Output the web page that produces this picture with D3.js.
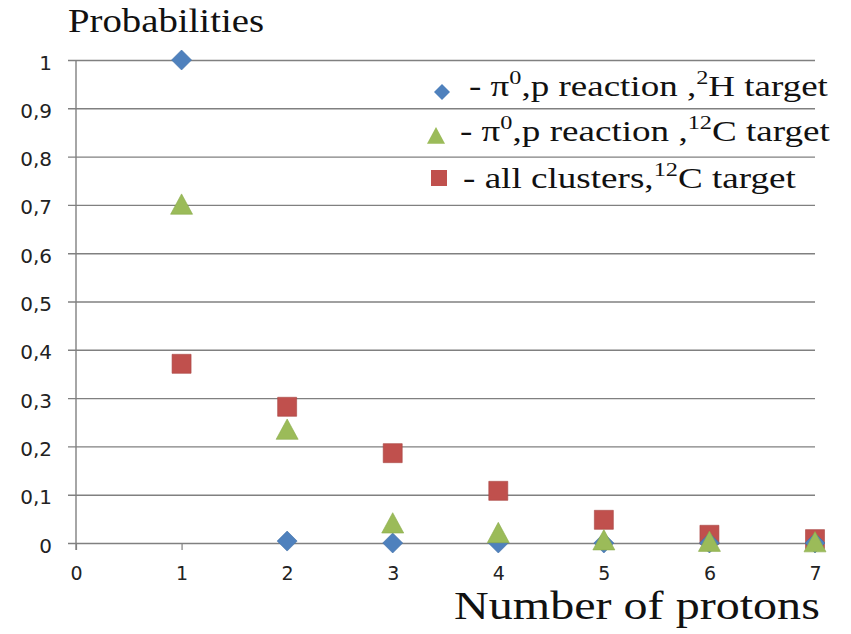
<!DOCTYPE html>
<html>
<head>
<meta charset="utf-8">
<script src="https://cdn.jsdelivr.net/npm/d3@7"></script>
<style>
  html, body { margin: 0; padding: 0; background: #fff; }
  svg { display: block; }
</style>
</head>
<body>
<svg id="chart" width="851" height="634"></svg>
<script>
// Number of protons detected per event
const protons = [1, 2, 3, 4, 5, 6, 7];
// π0,p reaction on the 2H target
const deuteronPi0p = [1.0, 0.004, 0.0, 0.0, 0.0, 0.0, 0.0];
// π0,p reaction on the 12C target
const carbonPi0p = [0.70, 0.234, 0.04, 0.02, 0.005, 0.002, 0.001];
// all clusters on the 12C target
const carbonAll = [0.371, 0.282, 0.186, 0.108, 0.048, 0.017, 0.008];

const xTicks = [0, 1, 2, 3, 4, 5, 6, 7];
const yTicks = [0, 0.1, 0.2, 0.3, 0.4, 0.5, 0.6, 0.7, 0.8, 0.9, 1];

const svg = d3.select("#chart");
const x = d3.scaleLinear().domain([0, 7]).range([76, 815]);
const y = d3.scaleLinear().domain([0, 1]).range([543, 60]);

const gridColor = "#808080";
const sans = "'DejaVu Sans', Verdana, sans-serif";
const serif = "'Liberation Serif', 'Times New Roman', serif";
const fmt = v => (v === 0 || v === 1) ? String(v) : d3.format(".1f")(v).replace(".", ",");

// Stretch a text element horizontally so it spans the given width from its left edge
function fitWidth(sel, width) {
  const node = sel.node();
  const bb = node.getBBox();
  const sx = width / bb.width;
  sel.attr("transform", `translate(${bb.x},0) scale(${sx},1) translate(${-bb.x},0)`);
}

// horizontal gridlines with left-side ticks
const yAxis = d3.axisLeft(y).tickValues(yTicks).tickSize(-(815 - 76)).tickSizeOuter(0).tickFormat(fmt);
const gy = svg.append("g").attr("transform", "translate(76,0)").call(yAxis);
gy.select(".domain").remove();
gy.selectAll(".tick line").attr("stroke", gridColor).attr("stroke-width", 1.4).attr("x1", -8);
gy.selectAll(".tick text")
  .attr("font-family", sans).attr("font-size", 20).attr("fill", "#222")
  .attr("x", -24).attr("dy", "0.45em");

// vertical axis line
svg.append("line")
  .attr("x1", x(0)).attr("x2", x(0)).attr("y1", y(1)).attr("y2", y(0) + 7)
  .attr("stroke", gridColor).attr("stroke-width", 1.4);

// x axis ticks and labels
const xAxis = d3.axisBottom(x).tickValues(xTicks).tickSize(7).tickSizeOuter(0)
  .tickPadding(17).tickFormat(d3.format("d"));
const gx = svg.append("g").attr("transform", `translate(0,${y(0)})`).call(xAxis);
gx.select(".domain").remove();
gx.selectAll(".tick line").attr("stroke", gridColor).attr("stroke-width", 1.2);
gx.selectAll(".tick text")
  .attr("font-family", sans).attr("font-size", 19).attr("fill", "#222");

// titles
const yTitle = svg.append("text").attr("x", 68).attr("y", 32)
  .attr("font-family", serif).attr("font-size", 33).attr("fill", "#111").text("Probabilities");
fitWidth(yTitle, 196);
const xTitle = svg.append("text").attr("x", 454).attr("y", 619)
  .attr("font-family", serif).attr("font-size", 40).attr("fill", "#111").text("Number of protons");
fitWidth(xTitle, 366);

// marker shapes
const shapes = {
  diamond: s => `M0,${-s}L${s},0L0,${s}L${-s},0Z`,
  triangle: s => `M0,${-s}L${s * 1.0},${s * 0.85}L${-s * 1.0},${s * 0.85}Z`,
  square: s => `M${-s},${-s}H${s}V${s}H${-s}Z`
};

const series = [
  { values: carbonAll, shape: "square", size: 9.5, color: "#C0504D", stroke: "#a84542" },
  { values: deuteronPi0p, shape: "diamond", size: 10, color: "#4F81BD", stroke: "#3f6ea6" },
  { values: carbonPi0p, shape: "triangle", size: 11, color: "#9BBB59", stroke: "#8aab4a" }
];

series.forEach(s => {
  svg.append("g").selectAll("path")
    .data(protons.map((p, i) => ({ p, v: s.values[i] })))
    .join("path")
    .attr("transform", d => `translate(${x(d.p)},${y(d.v)})`)
    .attr("d", shapes[s.shape](s.size))
    .attr("fill", s.color)
    .attr("stroke", s.stroke).attr("stroke-width", 0.6);
});

// legend
const legend = [
  { shape: "diamond", size: 8, color: "#4F81BD", mx: 442, my: 92, tx: 469, base: 96, end: 828, sup: "2", el: "H" },
  { shape: "triangle", size: 9, color: "#9BBB59", mx: 436, my: 136, tx: 460, base: 141, end: 830, sup: "12", el: "C" },
  { shape: "square", size: 8, color: "#C0504D", mx: 439, my: 178, tx: 463, base: 188, end: 796, sup: "12", el: "C" }
];
legend.forEach((l, i) => {
  svg.append("path").attr("transform", `translate(${l.mx},${l.my})`)
    .attr("d", shapes[l.shape](l.size)).attr("fill", l.color);
  const t = svg.append("text").attr("x", l.tx).attr("y", l.base)
    .attr("font-family", serif).attr("font-size", 29).attr("fill", "#111");
  if (i < 2) {
    t.append("tspan").text("- π");
    t.append("tspan").attr("dy", -12).attr("font-size", 19).text("0");
    t.append("tspan").attr("dy", 12).text(",p reaction ,");
  } else {
    t.append("tspan").text("- all clusters,");
  }
  t.append("tspan").attr("dy", -12).attr("font-size", 19).text(l.sup);
  t.append("tspan").attr("dy", 12).text(l.el + " target");
  fitWidth(t, l.end - l.tx);
});
</script>
</body>
</html>
